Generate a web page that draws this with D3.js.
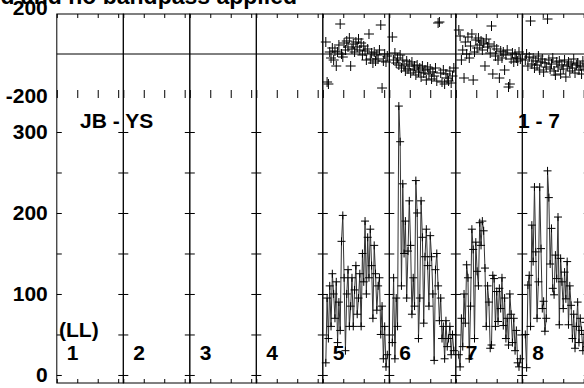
<!DOCTYPE html>
<html>
<head>
<meta charset="utf-8">
<script src="https://cdn.jsdelivr.net/npm/d3@7"></script>
<style>
  body { margin: 0; background: #fff; }
  svg { display: block; font-family: "Liberation Sans", Arial, sans-serif; font-weight: bold; }
</style>
</head>
<body>
<div id="chart"></div>
<script>
// panels (time windows) along the x axis
var panels = ["1", "2", "3", "4", "5", "6", "7", "8"];

// amplitude per panel (empty panels have no data)
var amp5 = [15, 95, 45, 110, 60, 125, 100, 70, 115, 40, 90, 55, 165, 197, 120, 30, 100, 130, 60, 85,
            120, 60, 105, 135, 75, 95, 125, 60, 150, 115, 190, 100, 170, 120, 180, 135, 70, 160, 125, 80,
            110, 120, 50, 85, 20, 60, 10, 25];
var amp6 = [40, 120, 20, 95, 60, 332, 288, 110, 236, 150, 190, 95, 153, 215, 160, 75, 120, 85, 240, 200,
            45, 95, 215, 170, 64, 146, 180, 135, 85, 172, 146, 100, 18, 130, 150, 110, 67, 95, 45, 60,
            20, 67, 35, 45, 60, 25, 50, 30];
var amp7 = [25, 10, 70, 35, 100, 64, 136, 120, 20, 85, 180, 155, 45, 164, 128, 110, 188, 160, 190, 178,
            132, 60, 110, 90, 33, 37, 123, 119, 60, 103, 66, 107, 82, 120, 61, 95, 45, 70, 37, 100,
            75, 40, 70, 30, 55, 15, 10, 20];
var amp8 = [50, 9, 111, 123, 60, 185, 140, 232, 152, 70, 115, 232, 156, 82, 91, 54, 70, 252, 219, 137,
            181, 107, 99, 148, 119, 195, 62, 144, 115, 82, 127, 94, 140, 62, 110, 86, 45, 75, 33, 60,
            90, 40, 70, 55, 30, 50, 65, 35];

// phase per panel (degrees)
var ph5 = [60, -140, -150, 10, -20, 30, -30, 15, -60, 10, 45, 150, 0, -15, 55, 20, 65, 35, 80, -60,
           25, 50, 10, 60, 35, 75, 20, 55, -5, 40, 15, -30, 25, 100, -25, 5, -45, 10, -35, -5,
           -25, 20, 145, -170, -35, 0, -40, -10];
var ph6 = [85, -30, 5, -45, -20, -55, -5, -70, -30, -60, -85, -35, -75, -50, -95, -40, -80, -60, -105, -55,
           -90, -70, -115, -60, -95, -80, -130, -65, -100, -75, -125, -90, -110, -70, -135, 155, 160, -95, -140, -80,
           -150, -100, -120, -135, -85, -145, -110, -70];
var ph7 = [120, 90, -30, 20, -120, 60, 0, 85, -20, 40, 100, -130, 10, 70, 30, 80, 45, 65, 20, 55,
           -60, 75, 35, 50, 5, 140, -100, 40, -10, 25, -30, -120, 15, -20, 10, -80, -5, 20, -165, -150,
           -25, 5, -40, 0, -20, -35, 10, -25];
var ph8 = [-30, 0, -60, -15, 165, -50, -20, -70, -35, -55, -10, -80, -40, -25, -90, -45, -65, 175, -30, -75,
           -50, -20, -85, -105, -40, -65, -35, -100, -55, -75, -30, -115, -60, -40, -85, -50, -70, -25, -95, -55,
           -45, -80, -60, -100, -35, -65, -75, -50];

var ampData = [null, null, null, null, amp5, amp6, amp7, amp8];
var phData  = [null, null, null, null, ph5, ph6, ph7, ph8];

var timeTicks = [0, 2, 4, 6];
var ampTicks = [0, 50, 100, 150, 200, 250, 300];
var ampLabels = [0, 100, 200, 300];

var width = 584, height = 388;
var left = 56.8, panelW = 66.5;
var topY = 14, midY = 94, botY = 383;
var fs = "21px";

var svg = d3.select("#chart").append("svg")
    .attr("width", width)
    .attr("height", height);

var xPanel = d3.scaleBand()
    .domain(panels)
    .range([left, left + panelW * panels.length])
    .padding(0);

var yPh = d3.scaleLinear().domain([-200, 200]).range([midY, topY]);
var yAmp = d3.scaleLinear().domain([-9.9, 346.9]).range([botY, midY]);

var crossBig = "M-5,0H5M0,-5V5";
var crossSmall = "M-4,0H4M0,-4V4";

function clean(g) {
  g.select(".domain").remove();
  g.selectAll("line").attr("stroke", "#000").attr("stroke-width", 1);
  g.selectAll("text").remove();
}

panels.forEach(function(p, i) {
  var x0 = xPanel(p), x1 = x0 + xPanel.bandwidth();
  var xs = d3.scaleLinear().domain([0, 6.5]).range([x0, x1]);

  var g = svg.append("g").attr("class", "panel");

  // x ticks on every horizontal edge
  g.append("g").attr("transform", "translate(0," + botY + ")")
    .call(d3.axisTop(xs).tickValues(timeTicks).tickSize(4)).call(clean);
  g.append("g").attr("transform", "translate(0," + midY + ")")
    .call(d3.axisBottom(xs).tickValues(timeTicks).tickSize(4)).call(clean);
  g.append("g").attr("transform", "translate(0," + midY + ")")
    .call(d3.axisTop(xs).tickValues(timeTicks).tickSize(4)).call(clean);
  g.append("g").attr("transform", "translate(0," + topY + ")")
    .call(d3.axisBottom(xs).tickValues(timeTicks).tickSize(4)).call(clean);

  // y ticks, inward on both sides of the amplitude panel
  g.append("g").attr("transform", "translate(" + x0 + ",0)")
    .call(d3.axisRight(yAmp).tickValues(ampTicks).tickSize(5)).call(clean);
  g.append("g").attr("transform", "translate(" + x1 + ",0)")
    .call(d3.axisLeft(yAmp).tickValues(ampTicks).tickSize(5)).call(clean);

  // panel frame
  g.append("rect")
    .attr("x", x0).attr("y", topY)
    .attr("width", x1 - x0).attr("height", botY - topY)
    .attr("fill", "none").attr("stroke", "#000").attr("stroke-width", 1);

  var amp = ampData[i], ph = phData[i];
  if (amp) {
    var xp = d3.scalePoint().domain(d3.range(amp.length)).range([x0 + 3, x1 - 2]);
    var line = d3.line()
      .x(function(d, j) { return xp(j); })
      .y(function(d) { return yAmp(d); });
    g.append("path")
      .datum(amp)
      .attr("d", line)
      .attr("fill", "none")
      .attr("stroke", "#333")
      .attr("stroke-width", 1);
    g.selectAll(".ampPt")
      .data(amp)
     .enter()
      .append("path")
      .attr("class", "ampPt")
      .attr("transform", function(d, j) { return "translate(" + xp(j) + "," + yAmp(d) + ")"; })
      .attr("d", crossSmall)
      .attr("stroke", "#000")
      .attr("stroke-width", 1);
    g.selectAll(".phPt")
      .data(ph)
     .enter()
      .append("path")
      .attr("class", "phPt")
      .attr("transform", function(d, j) { return "translate(" + xp(j) + "," + yPh(d) + ")"; })
      .attr("d", crossBig)
      .attr("stroke", "#000")
      .attr("stroke-width", 1);
  }

  // panel number
  g.append("text")
    .attr("x", x0 + 10)
    .attr("y", 360)
    .style("font-size", fs)
    .text(p);
});

// zero phase line
svg.append("line")
  .attr("x1", left).attr("x2", width)
  .attr("y1", yPh(0)).attr("y2", yPh(0))
  .attr("stroke", "#000").attr("stroke-width", 1);

// amplitude labels
var yLab = svg.append("g").attr("transform", "translate(" + left + ",0)")
  .call(d3.axisLeft(yAmp).tickValues(ampLabels).tickSize(0).tickPadding(9));
yLab.select(".domain").remove();
yLab.selectAll("text")
  .style("font-size", fs)
  .style("font-family", "Liberation Sans, Arial, sans-serif")
  .style("font-weight", "bold")
  .attr("fill", "#000");

// phase labels
svg.append("text")
  .attr("x", left - 9).attr("y", yPh(200) + 0.5)
  .attr("text-anchor", "end")
  .style("font-size", fs)
  .text("200");
svg.append("text")
  .attr("x", left - 9).attr("y", yPh(-200) + 9)
  .attr("text-anchor", "end")
  .style("font-size", fs)
  .text("-200");

// title (clipped at the top of the page)
svg.append("text")
  .attr("x", 297).attr("y", 4)
  .attr("text-anchor", "end")
  .style("font-size", "23px")
  .text("d and no bandpass applied");

svg.append("text")
  .attr("x", 80).attr("y", 128)
  .style("font-size", fs)
  .text("JB - YS");
svg.append("text")
  .attr("x", 518).attr("y", 128)
  .style("font-size", fs)
  .text("1 - 7");
svg.append("text")
  .attr("x", 59).attr("y", 337)
  .style("font-size", fs)
  .text("(LL)");
</script>
</body>
</html>
